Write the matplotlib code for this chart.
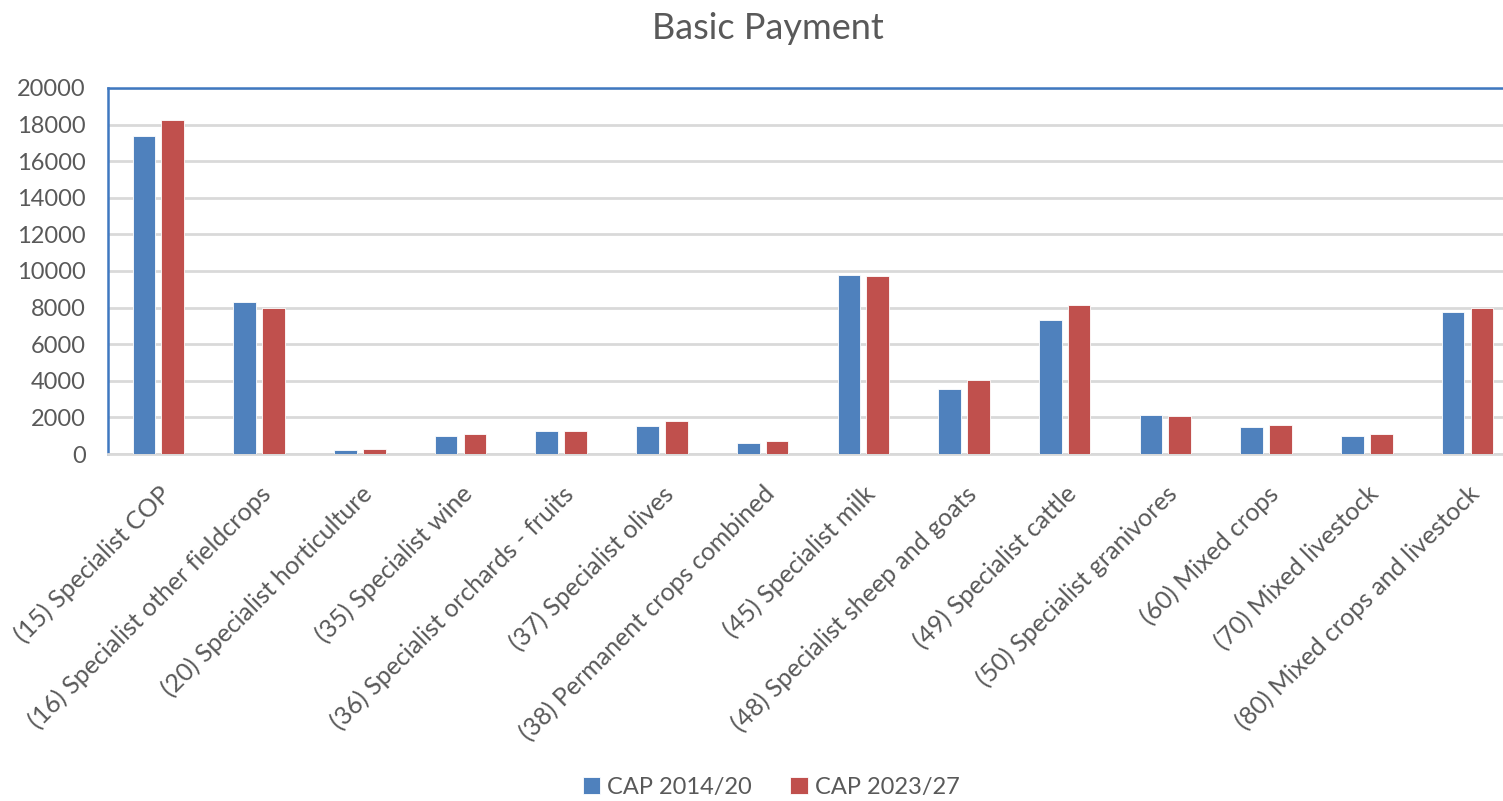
import numpy as np
import matplotlib.pyplot as plt

plt.rcParams['font.family'] = ['Lato', 'DejaVu Sans']

categories = [
    "(15) Specialist COP",
    "(16) Specialist other fieldcrops",
    "(20) Specialist horticulture",
    "(35) Specialist wine",
    "(36) Specialist orchards - fruits",
    "(37) Specialist olives",
    "(38) Permanent crops combined",
    "(45) Specialist milk",
    "(48) Specialist sheep and goats",
    "(49) Specialist cattle",
    "(50) Specialist granivores",
    "(60) Mixed crops",
    "(70) Mixed livestock",
    "(80) Mixed crops and livestock",
]
cap_2014 = [17400, 8300, 230, 1000, 1230, 1550, 620, 9800, 3550, 7300, 2150, 1450, 1000, 7780]
cap_2023 = [18250, 8000, 300, 1090, 1230, 1780, 710, 9720, 4050, 8150, 2080, 1600, 1080, 7950]

blue = '#4F81BD'
red = '#C0504D'
txt = '#595959'

fig = plt.figure(figsize=(15.03, 8.01), dpi=100)
ax = fig.add_axes([0.0719, 0.4332, 0.938, 0.457])

x = np.arange(len(categories))
w = 0.225
ax.bar(x - 0.143, cap_2014, w, color=blue, edgecolor='white', linewidth=0.6, label='CAP 2014/20', zorder=3)
ax.bar(x + 0.143, cap_2023, w, color=red, edgecolor='white', linewidth=0.6, label='CAP 2023/27', zorder=3)

ax.set_xlim(-0.5, len(categories) - 0.5)
ax.set_ylim(0, 20000)
ax.set_yticks(np.arange(0, 20001, 2000))
ax.yaxis.grid(True, color='#D9D9D9', linewidth=2, zorder=0)
ax.set_axisbelow(True)

for side in ['left', 'top']:
    ax.spines[side].set_color('#3F78C0')
    ax.spines[side].set_linewidth(1.8)
ax.spines['right'].set_visible(False)
ax.spines['bottom'].set_color('#D9D9D9')
ax.spines['bottom'].set_linewidth(2)

ax.tick_params(axis='both', length=0, colors=txt)
ax.tick_params(axis='y', labelsize=17, pad=16)
ax.set_xticks(x)
ax.set_xticklabels(categories, rotation=45, ha='right', rotation_mode='anchor',
                   fontsize=18, color=txt)
ax.tick_params(axis='x', pad=20)

fig.text(0.511, 0.965, 'Basic Payment', ha='center', va='center', fontsize=26, color=txt)

fig.legend(loc='center', bbox_to_anchor=(0.513, 0.017), ncol=2, frameon=False,
           fontsize=17, handlelength=0.75, handleheight=0.75, handletextpad=0.3,
           columnspacing=1.6, labelcolor=txt)

fig.savefig('out.png', dpi=100)
